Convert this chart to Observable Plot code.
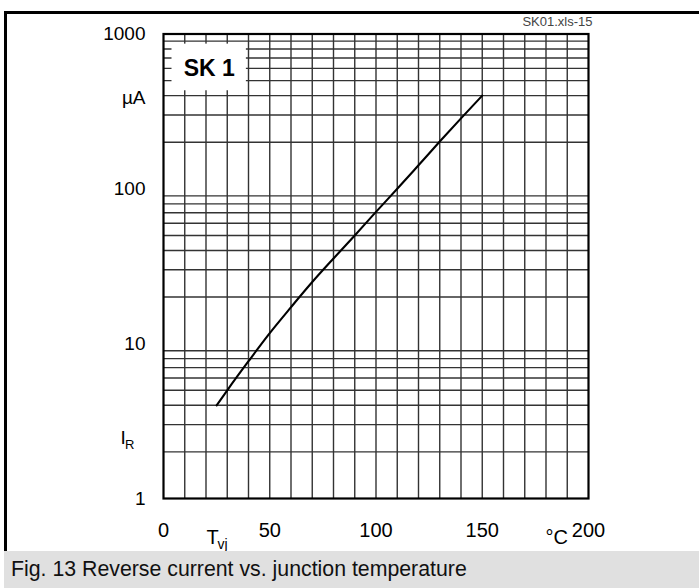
<!DOCTYPE html>
<html>
<head>
<meta charset="utf-8">
<script src="https://cdn.jsdelivr.net/npm/d3@7"></script>
<script src="https://cdn.jsdelivr.net/npm/@observablehq/plot@0.6"></script>
<style>
  html, body { margin: 0; padding: 0; background: #fff; overflow: hidden; }
  #wrap { position: relative; width: 699px; height: 588px; font-family: "Liberation Sans", Arial, sans-serif; }
  #chart { position: absolute; left: 0; top: 0; }
  .bt { position: absolute; left: 4px; top: 11px; width: 695px; height: 3px; background: #000; }
  .bl { position: absolute; left: 4px; top: 11px; width: 3px; height: 540px; background: #000; }
  #caption { position: absolute; left: 4px; top: 551px; width: 695px; height: 37px; line-height: 37px;
             background: #e0e0e0; font-size: 21.3px; padding-left: 7px; box-sizing: border-box; color: #111; }
</style>
</head>
<body>
<div id="wrap">
  <div id="chart"></div>
  <div class="bt"></div>
  <div class="bl"></div>
  <div id="caption">Fig. 13 Reverse current vs. junction temperature</div>
</div>
<script>
// Reverse current I_R (µA) vs junction temperature T_vj (°C)
const temps    = [25, 30, 40, 50, 60, 70, 80, 90, 100, 110, 120, 130, 140, 150];
const currents = [4, 5, 7.7, 11.7, 17.2, 25, 35.5, 50, 71, 100, 142, 202, 285, 400];

const xTicks = [0, 50, 100, 150, 200];
const yTicks = [1, 10, 100, 1000];
const xGrid = d3.range(10, 200, 10);
const yGrid = [2,3,4,5,6,7,8,9, 20,30,40,50,60,70,80,90, 200,300,400,500,600,700,800,900];

// label box "SK 1" extent in data units
const boxX = [4, 39];
const boxY = [430, 860];
const deviceLabel = "SK 1";
const fileTag = "SK01.xls-15";

const data = temps.map((t, i) => ({t, i: currents[i]}));
const font = "Liberation Sans, Arial, sans-serif";

const plot = Plot.plot({
  width: 699,
  height: 551,
  marginLeft: 163,
  marginRight: 111,
  marginTop: 33.5,
  marginBottom: 53,
  style: {fontFamily: font, color: "#000", background: "transparent"},
  x: {domain: [0, 200]},
  y: {type: "log", domain: [1, 1000]},
  marks: [
    Plot.ruleX(xGrid, {stroke: "#333", strokeWidth: 1.4}),
    Plot.ruleY(yGrid, {stroke: "#333", strokeWidth: 1.4}),
    Plot.rect([{}], {x1: boxX[0], x2: boxX[1], y1: boxY[0], y2: boxY[1], fill: "white"}),
    Plot.text([deviceLabel], {x: (boxX[0] + boxX[1]) / 2, y: Math.sqrt(boxY[0] * boxY[1]), text: d => d,
      fontSize: 23, fontWeight: "bold", fill: "#000", dy: 1}),
    Plot.frame({stroke: "#000", strokeWidth: 2.2}),
    Plot.line(data, {x: "t", y: "i", stroke: "#000", strokeWidth: 2.1, curve: "monotone-x"}),
    Plot.axisX(xTicks, {tickSize: 0, tickPadding: 24, fontSize: 20, label: null}),
    Plot.axisY(yTicks, {tickSize: 0, tickPadding: 18, fontSize: 19, label: null, tickFormat: d => String(d)}),
    // unit and variable labels
    Plot.text(["µA"], {frameAnchor: "top-left", dx: -18, dy: 69.5, text: d => d, textAnchor: "end", lineAnchor: "bottom", fontSize: 19}),
    Plot.text(["I"], {frameAnchor: "bottom-left", dx: -43, dy: -55, text: d => d, textAnchor: "start", lineAnchor: "bottom", fontSize: 19}),
    Plot.text(["R"], {frameAnchor: "bottom-left", dx: -38.5, dy: -50, text: d => d, textAnchor: "start", lineAnchor: "bottom", fontSize: 13}),
    Plot.text(["T"], {frameAnchor: "bottom-left", dx: 43, dy: 45, text: d => d, textAnchor: "start", lineAnchor: "bottom", fontSize: 20}),
    Plot.text(["vj"], {frameAnchor: "bottom-left", dx: 54, dy: 50, text: d => d, textAnchor: "start", lineAnchor: "bottom", fontSize: 14}),
    Plot.text(["°C"], {frameAnchor: "bottom-right", dx: -43, dy: 45, text: d => d, textAnchor: "start", lineAnchor: "bottom", fontSize: 20}),
    Plot.text([fileTag], {frameAnchor: "top-right", dx: 4, dy: -8.5, text: d => d, textAnchor: "end", lineAnchor: "bottom", fontSize: 13, fill: "#444"})
  ]
});
document.getElementById("chart").appendChild(plot);
</script>
</body>
</html>
